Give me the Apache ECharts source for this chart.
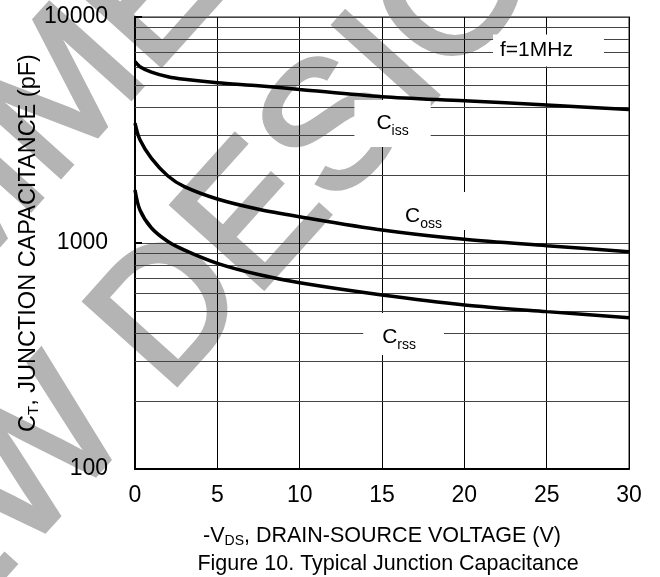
<!DOCTYPE html>
<html>
<head>
<meta charset="utf-8">
<script src="https://cdn.jsdelivr.net/npm/echarts@6/dist/echarts.min.js"></script>
<style>
  html, body { margin: 0; padding: 0; background: #fff; }
  #chart { width: 660px; height: 577px; }
</style>
</head>
<body>
<div id="chart"></div>
<script>
// Drain-source voltage samples (V)
const vds = [0, 0.3, 1, 2, 3, 5, 7.5, 10, 15, 20, 25, 30];
// Capacitance curves (pF) at f = 1 MHz
const ciss = [6340, 6030, 5700, 5440, 5300, 5120, 4960, 4780, 4440, 4260, 4080, 3900];
const coss = [3390, 2860, 2370, 1980, 1775, 1565, 1410, 1307, 1142, 1038, 973, 915];
const crss = [1716, 1400, 1165, 1015, 930, 813, 725, 667, 589, 532, 497, 467];
// Log-axis minor grid values (pF)
const minorGrid = [200, 300, 400, 500, 600, 700, 800, 900,
                   2000, 3000, 4000, 5000, 6000, 7000, 8000, 9000];

const FONT = '"Liberation Sans", Arial, sans-serif';

function pairs(ys) { return vds.map((v, i) => [v, ys[i]]); }

function tagLabel(main, sub, padding) {
  return {
    show: true,
    formatter: '{m|' + main + '}{s|' + sub + '}',
    backgroundColor: '#fff',
    padding: padding,
    rich: {
      m: { fontSize: 21, fontFamily: FONT, color: '#000', verticalAlign: 'bottom' },
      s: { fontSize: 14, fontFamily: FONT, color: '#000', verticalAlign: 'bottom', padding: [0, 0, -4, 0] }
    }
  };
}

function curve(name, ys, tag) {
  return {
    name: name,
    type: 'line',
    data: pairs(ys),
    smooth: 0.3,
    showSymbol: false,
    symbol: 'none',
    z: 5,
    lineStyle: { color: '#000', width: 3.5 },
    markPoint: {
      symbol: 'circle',
      symbolSize: 0,
      silent: true,
      data: [{ coord: tag.coord, label: tagLabel(tag.main, tag.sub, tag.padding) }]
    }
  };
}

// Diagonal watermark text, one element per line
function watermark(text, x, y) {
  return {
    type: 'text',
    x: x,
    y: y,
    rotation: 48 * Math.PI / 180,
    z: -10,
    silent: true,
    style: {
      text: text,
      font: '180px ' + FONT,
      fill: '#b4b4b4',
      stroke: '#b4b4b4',
      lineWidth: 5,
      align: 'center',
      verticalAlign: 'middle',
      textAlign: 'center',
      textVerticalAlign: 'middle'
    }
  };
}

const chart = echarts.init(document.getElementById('chart'), null, { renderer: 'canvas' });

chart.setOption({
  animation: false,
  backgroundColor: '#fff',
  title: {
    text: 'Figure 10. Typical Junction Capacitance',
    left: 383,
    top: 548,
    textAlign: 'center',
    textStyle: { fontSize: 21.5, fontWeight: 'normal', fontFamily: FONT, color: '#000' }
  },
  graphic: [
    watermark('NOT RECOMMENDED FOR', 51, 113),
    watermark('NEW DESIGN', 204, 280)
  ],
  grid: {
    left: 135, right: 31, top: 17, bottom: 108,
    show: true,
    borderColor: '#8c8c8c',
    borderWidth: 2,
    backgroundColor: 'transparent'
  },
  xAxis: {
    type: 'value',
    min: 0, max: 30, interval: 5,
    name: '-V{s|DS}, DRAIN-SOURCE VOLTAGE (V)',
    nameLocation: 'middle',
    nameGap: 56,
    nameMoveOverlap: false,
    nameTextStyle: {
      fontSize: 21.5, fontFamily: FONT, color: '#000',
      rich: { s: { fontSize: 14, fontFamily: FONT, color: '#000', padding: [9, 0, 0, 0] } }
    },
    axisLine: { show: true, lineStyle: { color: '#000', width: 2 } },
    axisTick: { show: false },
    axisLabel: { fontSize: 23, fontFamily: FONT, color: '#000', margin: 15 },
    splitLine: { show: true, lineStyle: { color: '#000', width: 1 } }
  },
  yAxis: {
    type: 'log',
    logBase: 10,
    min: 100, max: 10000,
    name: 'C{s|T}, JUNCTION CAPACITANCE (pF)',
    nameLocation: 'middle',
    nameGap: 94,
    nameMoveOverlap: false,
    nameTextStyle: {
      fontSize: 23.5, fontFamily: FONT, color: '#000',
      rich: { s: { fontSize: 15, fontFamily: FONT, color: '#000', padding: [10, 0, 0, 0] } }
    },
    axisLine: { show: true, lineStyle: { color: '#000', width: 2 } },
    axisTick: { show: true, inside: true, length: 7, lineStyle: { color: '#000', width: 2 } },
    axisLabel: {
      fontSize: 23, fontFamily: FONT, color: '#000', margin: 27,
      formatter: v => String(Math.round(v))
    },
    splitLine: { show: true, lineStyle: { color: '#444', width: 1 } }
  },
  series: [
    {
      name: 'grid',
      type: 'line',
      data: [],
      z: 1,
      silent: true,
      markLine: {
        silent: true,
        symbol: ['none', 'none'],
        label: { show: false },
        lineStyle: { color: '#444', width: 1, type: 'solid' },
        data: minorGrid.map(v => ({ yAxis: v }))
      }
    },
    curve('Ciss', ciss, { coord: [15.64, 3380], main: 'C', sub: 'iss', padding: [13, 22, 13, 22] }),
    curve('Coss', coss, { coord: [18.16, 1386], main: 'C', sub: 'oss', padding: [14, 28, 3, 7] }),
    curve('Crss', crss, { coord: [16.31, 396], main: 'C', sub: 'rss', padding: [14, 28, 7, 19] }),
    {
      name: 'freq',
      type: 'line',
      data: [],
      z: 5,
      markPoint: {
        symbol: 'circle',
        symbolSize: 0,
        silent: true,
        data: [{
          coord: [25.11, 7108],
          label: {
            show: true,
            formatter: 'f=1MHz',
            fontSize: 21, fontFamily: FONT, color: '#000',
            backgroundColor: '#fff',
            padding: [7, 31, 4, 7]
          }
        }]
      }
    }
  ]
});
</script>
</body>
</html>
